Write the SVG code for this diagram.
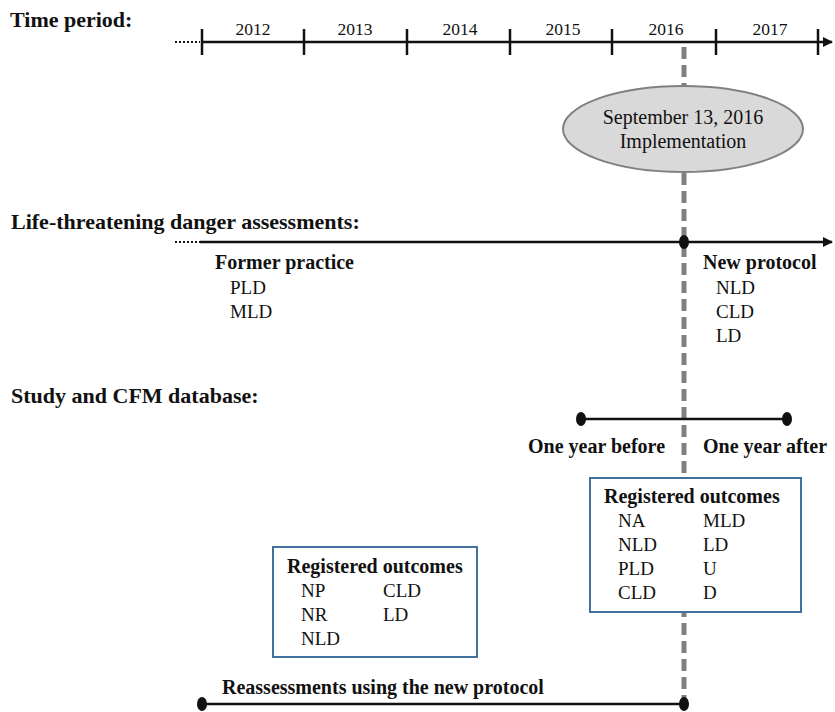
<svg xmlns="http://www.w3.org/2000/svg" width="835" height="712" viewBox="0 0 835 712">
<style>
text{font-family:"Liberation Serif","Times New Roman",serif;fill:#111}
.s{font-weight:bold;font-size:22px}
.h{font-weight:bold;font-size:20px}
.t{font-size:19px}
.e{font-size:20px}
.y{font-size:17.5px}
.ax{stroke:#111;stroke-width:2.5;fill:none}
.dot{stroke:#111;stroke-width:2;stroke-dasharray:2 2;fill:none}
.box{fill:#fff;stroke:#41719c;stroke-width:2}
</style>
<defs>
<marker id="arr" viewBox="0 0 10 10" refX="9" refY="5" markerWidth="4" markerHeight="4" orient="auto" markerUnits="strokeWidth">
<path d="M0,0 L10,5 L0,10 z" fill="#111"/>
</marker>
</defs>
<rect width="835" height="712" fill="#fff"/>
<g id="connectors">
<line x1="684" y1="47" x2="684" y2="712" stroke="#808080" stroke-width="5" stroke-dasharray="12 6"/>
<line class="dot" x1="175" y1="42" x2="200" y2="42"/>
<line class="ax" x1="202" y1="42" x2="832" y2="42" marker-end="url(#arr)"/>
<g stroke="#111" stroke-width="2.5">
<line x1="202" y1="29" x2="202" y2="55"/>
<line x1="304" y1="29" x2="304" y2="55"/>
<line x1="407" y1="29" x2="407" y2="55"/>
<line x1="510" y1="29" x2="510" y2="55"/>
<line x1="612" y1="29" x2="612" y2="55"/>
<line x1="716" y1="29" x2="716" y2="55"/>
<line x1="818" y1="29" x2="818" y2="55"/>
</g>
<line class="dot" x1="175" y1="242" x2="200" y2="242"/>
<line class="ax" x1="200" y1="242" x2="832" y2="242" marker-end="url(#arr)"/>
<ellipse cx="684" cy="242" rx="5" ry="7" fill="#111"/>
<line class="ax" x1="581" y1="419" x2="787" y2="419"/>
<ellipse cx="581" cy="419" rx="5" ry="7" fill="#111"/>
<ellipse cx="787" cy="419" rx="5" ry="7" fill="#111"/>
<line class="ax" x1="202" y1="704" x2="684" y2="704" stroke-width="3.5"/>
<ellipse cx="202" cy="704" rx="5" ry="7" fill="#111"/>
<ellipse cx="684" cy="704" rx="5" ry="7" fill="#111"/>
</g>
<g id="time-period">
<text class="s" x="10" y="27">Time period:</text>
<g text-anchor="middle">
<text class="y" x="253" y="35">2012</text>
<text class="y" x="355" y="35">2013</text>
<text class="y" x="460" y="35">2014</text>
<text class="y" x="563" y="35">2015</text>
<text class="y" x="666" y="35">2016</text>
<text class="y" x="770" y="35">2017</text>
</g>
</g>
<g id="implementation">
<ellipse cx="683" cy="129" rx="120" ry="43" fill="#d9d9d9" stroke="#808080" stroke-width="2"/>
<text class="e" x="683" y="124" text-anchor="middle">September 13, 2016</text>
<text class="e" x="683" y="148" text-anchor="middle">Implementation</text>
</g>
<g id="ltd-assessments">
<text class="s" x="11" y="229">Life-threatening danger assessments:</text>
</g>
<g id="former-practice">
<text class="h" x="215" y="269">Former practice</text>
<text class="t" x="230" y="294">PLD</text>
<text class="t" x="230" y="318">MLD</text>
</g>
<g id="new-protocol">
<text class="h" x="703" y="269">New protocol</text>
<text class="t" x="716" y="294">NLD</text>
<text class="t" x="716" y="318">CLD</text>
<text class="t" x="716" y="342">LD</text>
</g>
<g id="study-db">
<text class="s" x="11" y="403">Study and CFM database:</text>
<text class="h" x="528" y="453">One year before</text>
<text class="h" x="703" y="453">One year after</text>
</g>
<g id="outcomes-right">
<rect class="box" x="590" y="478" width="211" height="134"/>
<text class="h" x="604" y="503">Registered outcomes</text>
<text class="t" x="618" y="527">NA</text>
<text class="t" x="618" y="551">NLD</text>
<text class="t" x="618" y="575">PLD</text>
<text class="t" x="618" y="599">CLD</text>
<text class="t" x="703" y="527">MLD</text>
<text class="t" x="703" y="551">LD</text>
<text class="t" x="703" y="575">U</text>
<text class="t" x="703" y="599">D</text>
</g>
<g id="outcomes-left">
<rect class="box" x="273" y="547" width="204" height="110"/>
<text class="h" x="287" y="573">Registered outcomes</text>
<text class="t" x="301" y="597">NP</text>
<text class="t" x="301" y="621">NR</text>
<text class="t" x="301" y="645">NLD</text>
<text class="t" x="383" y="597">CLD</text>
<text class="t" x="383" y="621">LD</text>
</g>
<g id="reassessments">
<text class="h" x="222" y="694">Reassessments using the new protocol</text>
</g>
</svg>
